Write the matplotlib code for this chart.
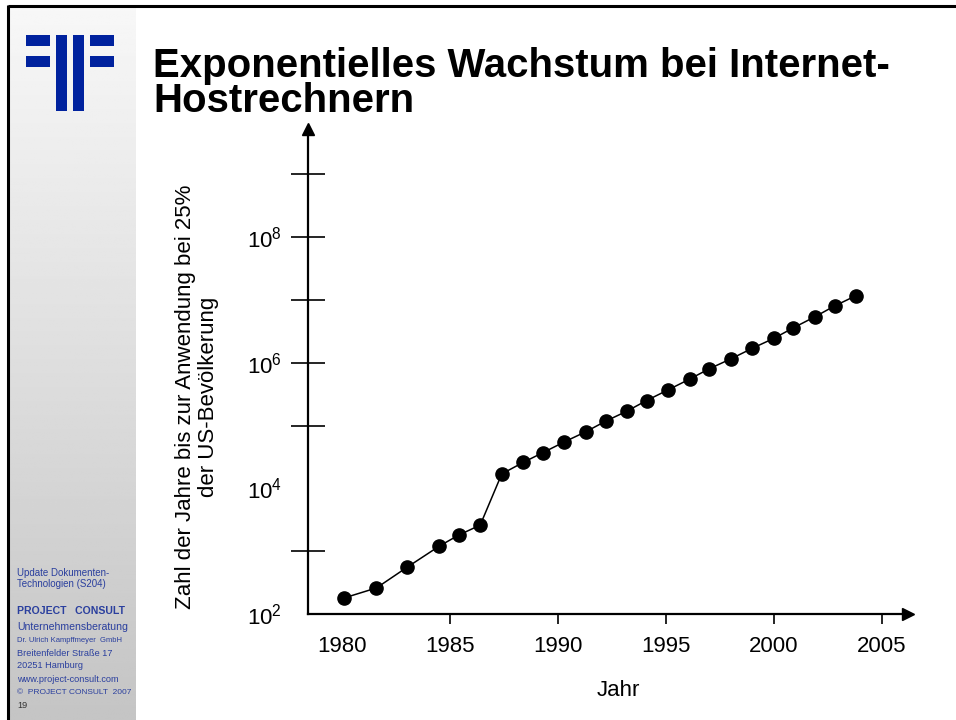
import matplotlib.pyplot as plt
import numpy as np
from matplotlib.patches import Rectangle

plt.rcParams["font.family"] = ["Liberation Sans", "DejaVu Sans"]
plt.rcParams["mathtext.default"] = "regular"

# Internet hosts per year (log scale)
years = [1980.1, 1981.6, 1983.0, 1984.5, 1985.4, 1986.4, 1987.4, 1988.4,
         1989.3, 1990.3, 1991.3, 1992.2, 1993.2, 1994.1, 1995.1, 1996.1,
         1997.0, 1998.0, 1999.0, 2000.0, 2000.9, 2001.9, 2002.8, 2003.8]
hosts = [180, 260, 550, 1200, 1800, 2600, 17000, 26000,
         37000, 55000, 80000, 117000, 170000, 250000, 370000, 550000,
         800000, 1150000, 1700000, 2450000, 3600000, 5400000, 8000000, 11700000]

x_ticks = [1980, 1985, 1990, 1995, 2000, 2005]
y_tick_marks = [1e3, 1e5, 1e6, 1e7, 1e8, 1e9]
y_label_pos = [1e2, 1e4, 1e6, 1e8]
y_label_text = [r"$10^{2}$", r"$10^{4}$", r"$10^{6}$", r"$10^{8}$"]

sidebar_lines = [
    ("Update Dokumenten-", 573, 7.0, "normal"),
    ("Technologien (S204)", 584, 7.0, "normal"),
    ("PROJECT   CONSULT", 611, 7.6, "bold"),
    ("Unternehmensberatung", 627, 7.6, "normal"),
    ("Dr. Ulrich Kampffmeyer  GmbH", 640, 5.5, "normal"),
    ("Breitenfelder Straße 17", 653, 6.6, "normal"),
    ("20251 Hamburg", 666, 6.6, "normal"),
    ("www.project-consult.com", 679, 6.6, "normal"),
    ("©  PROJECT CONSULT  2007", 692, 6.0, "normal"),
]

W, H = 956, 720
fig = plt.figure(figsize=(W / 100, H / 100), dpi=100)

# slide decoration in pixel coordinates
bg = fig.add_axes([0, 0, 1, 1])
bg.set_xlim(0, W)
bg.set_ylim(H, 0)
bg.axis("off")
grad = np.linspace(0.97, 0.77, 256).reshape(-1, 1)
bg.imshow(grad, cmap="gray", vmin=0, vmax=1, extent=(9, 136, H, 7), aspect="auto")
bg.plot([8, W], [6, 6], color="black", lw=2.2, solid_capstyle="butt")
bg.plot([8, 8], [5, H], color="black", lw=2.2, solid_capstyle="butt")

logo_blue = "#00229e"
for x0, y0, w, h in [(26, 35, 24, 11), (26, 56, 24, 11), (56, 35, 11, 76),
                     (73, 35, 11, 76), (90, 35, 24, 11), (90, 56, 24, 11)]:
    bg.add_patch(Rectangle((x0, y0), w, h, color=logo_blue, lw=0))

text_blue = "#2a3f9e"
for txt, y, size, weight in sidebar_lines:
    bg.text(17, y, txt, fontsize=size, fontweight=weight, color=text_blue,
            va="center", ha="left")
bg.text(17, 706, "19", fontsize=6.6, color="#333333", va="center", ha="left")

bg.text(153, 77, "Exponentielles Wachstum bei Internet-", fontsize=28.9,
        fontweight="bold", va="baseline", ha="left")
bg.text(153, 112, "Hostrechnern", fontsize=28.9, fontweight="bold",
        va="baseline", ha="left")

# chart
ax = fig.add_axes([308 / W, 106 / H, (908 - 308) / W, (614 - 129) / H])
ax.set_facecolor("none")
ax.plot(years, hosts, color="black", lw=1.1, marker="o", markersize=9.5,
        markerfacecolor="black", markeredgecolor="black")
ax.set_yscale("log")
ax.set_xlim(1978.43, 2006.2)
ax.set_ylim(1e2, 10 ** 9.72)

for side in ("top", "right"):
    ax.spines[side].set_visible(False)
for side in ("left", "bottom"):
    ax.spines[side].set_linewidth(1.6)

ax.plot(1, 0, ">", color="black", markersize=9, transform=ax.transAxes, clip_on=False)
ax.plot(0, 1, "^", color="black", markersize=9, transform=ax.transAxes, clip_on=False)

ax.set_xticks(x_ticks, labels=[str(t) for t in x_ticks])
ax.tick_params(axis="x", direction="out", length=7.5, width=1.2, labelsize=16, pad=8)
ax.xaxis.get_major_ticks()[0].tick1line.set_visible(False)
ax.xaxis.set_minor_locator(plt.NullLocator())

ax.yaxis.remove_overlapping_locs = False
ax.set_yticks(y_tick_marks, labels=[""] * len(y_tick_marks))
ax.set_yticks(y_label_pos, labels=y_label_text, minor=True)
ax.tick_params(axis="y", which="major", direction="inout", length=24, width=1.2)
ax.tick_params(axis="y", which="minor", length=0, labelsize=16, pad=19)

fig.text(197 / W, 1 - 397 / H,
         "Zahl der Jahre bis zur Anwendung bei 25%\nder US-Bevölkerung",
         rotation=90, ha="center", va="center", fontsize=16,
         multialignment="center", linespacing=1.15)
fig.text(618 / W, 1 - 690 / H, "Jahr", ha="center", va="center", fontsize=16)

fig.savefig("out.png", dpi=100)
